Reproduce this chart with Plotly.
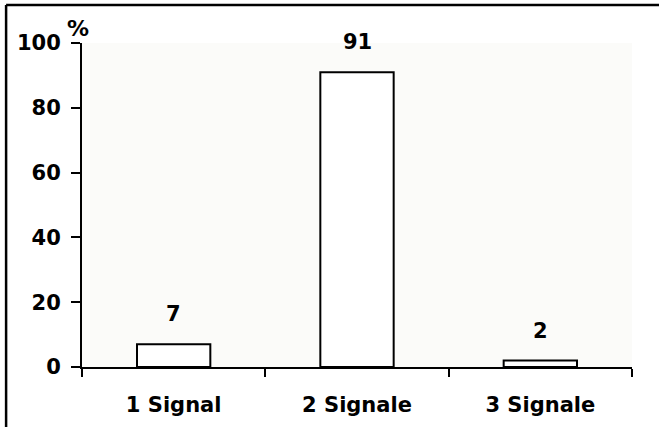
import plotly.graph_objects as go

categories = ["1 Signal", "2 Signale", "3 Signale"]
values = [7, 91, 2]
y_ticks = [0, 20, 40, 60, 80, 100]

FONT = dict(family="DejaVu Sans", size=21, color="black", weight="bold")

fig = go.Figure()
fig.add_trace(go.Bar(
    x=categories, y=values,
    marker=dict(color="white", line=dict(color="black", width=2)),
    hoverinfo="skip",
))

for c, v in zip(categories, values):
    fig.add_annotation(x=c, y=v, text=str(v), showarrow=False,
                       yanchor="bottom", yshift=16, font=FONT)

fig.add_annotation(xref="paper", yref="paper", x=-0.007, y=1.045, text="%",
                   showarrow=False, xanchor="center", yanchor="middle",
                   font=dict(family="DejaVu Sans", size=22, color="black", weight="bold"))

# outer frame (top and left edges visible)
fig.add_shape(type="line", xref="paper", yref="paper", x0=-0.138, x1=1.1,
              y0=1.117, y1=1.117, line=dict(color="black", width=2.5))
fig.add_shape(type="line", xref="paper", yref="paper", x0=-0.138, x1=-0.138,
              y0=1.117, y1=-0.3, line=dict(color="black", width=2.5))

fig.update_layout(
    width=659, height=427,
    margin=dict(l=82, r=27, t=43, b=60),
    paper_bgcolor="white", plot_bgcolor="#fbfbf9",
    bargap=0.6, showlegend=False,
    font=FONT,
)
fig.update_xaxes(showline=True, linecolor="black", linewidth=2,
                 ticks="outside", tickson="boundaries", ticklen=8, tickwidth=2,
                 tickcolor="black", tickfont=FONT, showgrid=False,
                 ticklabelstandoff=18, automargin=False)
fig.update_yaxes(range=[0, 100], tickvals=y_ticks, showline=True,
                 linecolor="black", linewidth=2, ticks="outside", ticklen=9,
                 tickwidth=2, tickcolor="black", tickfont=FONT, showgrid=False,
                 zeroline=False, ticklabelstandoff=6, automargin=False)

fig.write_html("out.html")
